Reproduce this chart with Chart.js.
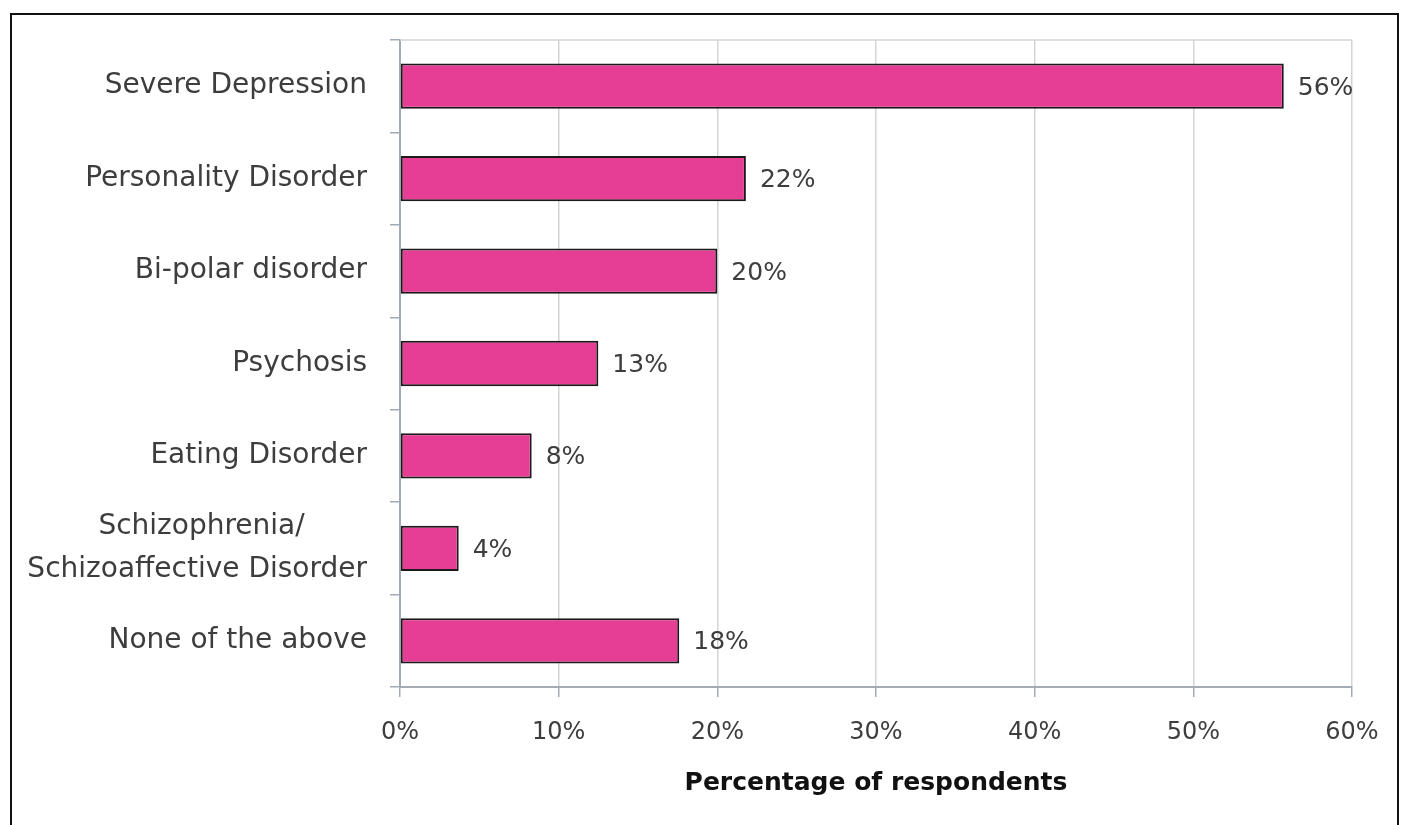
<!DOCTYPE html>
<html>
<head>
<meta charset="utf-8">
<script src="https://cdn.jsdelivr.net/npm/chart.js@4.4.1/dist/chart.umd.min.js"></script>
<style>
  body { margin: 0; background: #fff; }
  .container { width: 1402px; height: 825px; position: relative; }
</style>
</head>
<body>
<div class="container">
  <canvas id="myChart"></canvas>
</div>
<script>
const categories = [
  "Severe Depression",
  "Personality Disorder",
  "Bi-polar disorder",
  "Psychosis",
  "Eating Disorder",
  ["Schizophrenia/", "Schizoaffective Disorder"],
  "None of the above"
];
const percentages = [55.7, 21.8, 20.0, 12.5, 8.3, 3.7, 17.6];
const valueLabels = ["56%", "22%", "20%", "13%", "8%", "4%", "18%"];
const xTickValues = [0, 10, 20, 30, 40, 50, 60];

const fontFamily = "'DejaVu Sans', 'Open Sans', sans-serif";
const catFontSize = 28;

// multi-line category labels are centred line by line, so pad the shorter lines
const measureCtx = document.createElement("canvas").getContext("2d");
measureCtx.font = catFontSize + "px " + fontFamily;
function centreLines(label) {
  if (!Array.isArray(label)) return label;
  const widths = label.map(l => measureCtx.measureText(l).width);
  const maxW = Math.max(...widths);
  const space = measureCtx.measureText(" ").width;
  return label.map((l, i) => l + " ".repeat(Math.round((maxW - widths[i]) / 2 / space)));
}

// frame round the whole picture + top line of the plot area
const framePlugin = {
  id: "frame",
  beforeDraw(chart) {
    const ctx = chart.ctx;
    ctx.save();
    ctx.fillStyle = "#fff";
    ctx.fillRect(0, 0, chart.width, chart.height);
    ctx.strokeStyle = "#111";
    ctx.lineWidth = 2;
    ctx.strokeRect(11, 14, 1387, 900);
    ctx.restore();
  },
  beforeDatasetsDraw(chart) {
    const {ctx, chartArea} = chart;
    ctx.save();
    ctx.strokeStyle = "#d4d4d4";
    ctx.lineWidth = 1.5;
    ctx.beginPath();
    ctx.moveTo(chartArea.left, chartArea.top);
    ctx.lineTo(chartArea.right, chartArea.top);
    ctx.stroke();
    ctx.restore();
  }
};

// value labels at the end of each bar
const valueLabelPlugin = {
  id: "valueLabels",
  afterDatasetsDraw(chart) {
    const ctx = chart.ctx;
    const meta = chart.getDatasetMeta(0);
    ctx.save();
    ctx.font = "25px " + fontFamily;
    ctx.fillStyle = "#3d3d3d";
    ctx.textAlign = "left";
    ctx.textBaseline = "middle";
    meta.data.forEach((bar, i) => {
      ctx.fillText(valueLabels[i], bar.x + 14, bar.y + 2);
    });
    ctx.restore();
  }
};

const ctx = document.getElementById("myChart");
new Chart(ctx, {
  type: "bar",
  data: {
    labels: categories,
    datasets: [
      {
        label: "Percentage of respondents",
        data: percentages,
        backgroundColor: "rgba(230, 62, 148, 1)",
        borderColor: "rgba(26, 26, 26, 1)",
        borderWidth: 2,
        borderSkipped: false,
        barPercentage: 0.49,
        categoryPercentage: 1
      }
    ]
  },
  options: {
    indexAxis: "y",
    responsive: true,
    maintainAspectRatio: false,
    animation: false,
    layout: { padding: { top: 40, right: 50, left: 0, bottom: 0 } },
    plugins: {
      legend: { display: false },
      tooltip: { enabled: false }
    },
    scales: {
      x: {
        min: 0,
        max: 60,
        afterBuildTicks(scale) {
          scale.ticks = xTickValues.map(v => ({ value: v }));
        },
        afterFit(scale) { scale.height = 138; },
        grid: {
          color: "#d4d4d4",
          lineWidth: 1.5,
          tickColor: "#a3abb4",
          tickLength: 10
        },
        border: { color: "#a3abb4", width: 2 },
        ticks: {
          padding: 21,
          color: "#3d3d3d",
          font: { family: fontFamily, size: 24 },
          callback: v => v + "%"
        },
        title: {
          display: true,
          text: "Percentage of respondents",
          color: "#111",
          font: { family: fontFamily, size: 25, weight: "bold" },
          padding: { top: 0, bottom: 27 }
        }
      },
      y: {
        afterFit(scale) {
          scale.width = 400;
          scale.paddingTop = 0;
          scale.paddingBottom = 0;
        },
        grid: {
          drawOnChartArea: false,
          tickColor: "#a3abb4",
          tickLength: 10,
          lineWidth: 1.5
        },
        border: { color: "#a3abb4", width: 2 },
        ticks: {
          padding: 23,
          color: "#3d3d3d",
          font: { family: fontFamily, size: catFontSize, lineHeight: 1.55 },
          callback(value) { return centreLines(this.getLabelForValue(value)); }
        }
      }
    }
  },
  plugins: [framePlugin, valueLabelPlugin]
});
</script>
</body>
</html>
